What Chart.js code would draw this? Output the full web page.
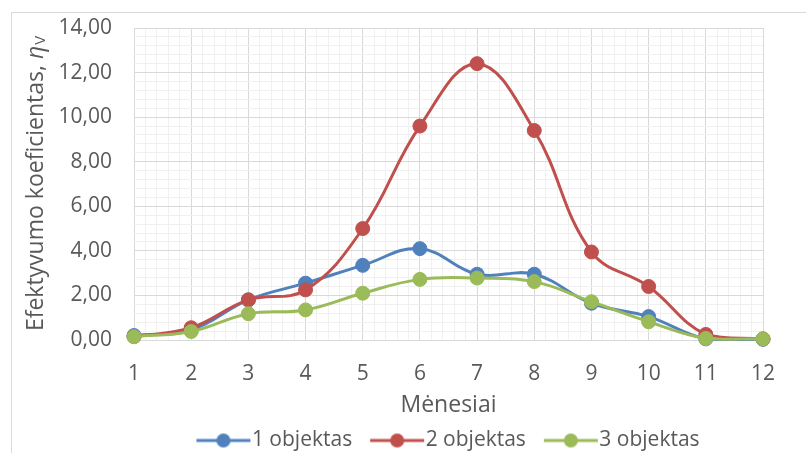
<!DOCTYPE html>
<html>
<head>
<meta charset="utf-8">
<script src="https://cdn.jsdelivr.net/npm/chart.js@4.4.1/dist/chart.umd.min.js"></script>
<style>
html, body { margin: 0; padding: 0; background: #fff; }
#wrap { width: 806px; height: 453px; position: relative; }
</style>
</head>
<body>
<div id="wrap"><canvas id="chart"></canvas></div>
<script>
var months = [1, 2, 3, 4, 5, 6, 7, 8, 9, 10, 11, 12];
var obj1 = [0.20, 0.45, 1.80, 2.55, 3.35, 4.10, 2.95, 2.95, 1.65, 1.05, 0.05, 0.03];
var obj2 = [0.15, 0.55, 1.80, 2.25, 5.00, 9.60, 12.40, 9.40, 3.95, 2.40, 0.25, 0.05];
var obj3 = [0.15, 0.38, 1.18, 1.35, 2.10, 2.72, 2.78, 2.62, 1.72, 0.82, 0.07, 0.05];
var seriesNames = ['1 objektas', '2 objektas', '3 objektas'];
var seriesColors = ['#4F81BD', '#C0504D', '#9BBB59'];
var yTicksMajor = 2, yTicksMinor = 0.4, yMax = 14;
var xTicksMinor = 0.2;
var xTitle = 'Mėnesiai';
var yTitle = 'Efektyvumo koeficientas, ';

var textColor = '#595959';
var fontFamily = '"Open Sans", sans-serif';

function toPoints(values) {
    return months.map(function(m, i) { return { x: m, y: values[i] }; });
}

// legend marker: line with a dot in the middle (line sits in the right part)
function legendMarker(color) {
    var c = document.createElement('canvas');
    c.width = 66; c.height = 16;
    var g = c.getContext('2d');
    g.strokeStyle = color;
    g.lineWidth = 3;
    g.beginPath(); g.moveTo(10, 8); g.lineTo(64, 8); g.stroke();
    g.fillStyle = color;
    g.beginPath(); g.arc(37, 8, 7, 0, Math.PI * 2); g.fill();
    return c;
}

function makeDataset(i, values, order) {
    return {
        label: seriesNames[i],
        data: toPoints(values),
        borderColor: seriesColors[i],
        backgroundColor: seriesColors[i],
        pointBackgroundColor: seriesColors[i],
        pointBorderColor: seriesColors[i],
        pointRadius: 7,
        pointHoverRadius: 7,
        pointBorderWidth: 1,
        borderWidth: 3,
        tension: 0.4,
        clip: false,
        order: order
    };
}

var frame = {
    id: 'frame',
    beforeDraw: function(chart) {
        var ctx = chart.ctx;
        ctx.save();
        ctx.strokeStyle = '#D9D9D9';
        ctx.lineWidth = 1;
        ctx.strokeRect(11.5, 12.5, 1000, 1000);
        ctx.restore();
    }
};

var yAxisTitle = {
    id: 'yAxisTitle',
    afterDraw: function(chart) {
        var ctx = chart.ctx;
        var area = chart.chartArea;
        ctx.save();
        ctx.translate(36, (area.top + area.bottom) / 2);
        ctx.rotate(-Math.PI / 2);
        ctx.fillStyle = textColor;
        ctx.textBaseline = 'middle';
        ctx.textAlign = 'left';
        ctx.font = '23px ' + fontFamily;
        var w1 = ctx.measureText(yTitle).width;
        ctx.font = 'italic 23px ' + fontFamily;
        var w2 = ctx.measureText('η').width;
        ctx.font = '15px ' + fontFamily;
        var w3 = ctx.measureText('V').width;
        var x = -(w1 + w2 + w3) / 2;
        ctx.font = '23px ' + fontFamily;
        ctx.fillText(yTitle, x, 0);
        ctx.font = 'italic 23px ' + fontFamily;
        ctx.fillText('η', x + w1, 0);
        ctx.font = '15px ' + fontFamily;
        ctx.fillText('V', x + w1 + w2 + 1, 5);
        ctx.restore();
    }
};

new Chart(document.getElementById('chart').getContext('2d'), {
    type: 'line',
    data: {
        datasets: [
            makeDataset(0, obj1, 3),
            makeDataset(1, obj2, 2),
            makeDataset(2, obj3, 1)
        ]
    },
    plugins: [frame, yAxisTitle],
    options: {
        responsive: true,
        maintainAspectRatio: false,
        animation: false,
        layout: {
            padding: { left: 0, right: 43, top: 28, bottom: 0 }
        },
        scales: {
            x: {
                type: 'linear',
                min: 1,
                max: 12,
                afterFit: function(scale) { scale.height = 71; },
                grid: {
                    drawTicks: false,
                    color: function(c) {
                        return Math.abs(c.tick.value - Math.round(c.tick.value)) < 1e-6 ? '#D9D9D9' : '#F0F0F0';
                    }
                },
                border: { display: false },
                ticks: {
                    stepSize: xTicksMinor,
                    autoSkip: false,
                    maxRotation: 0,
                    padding: 21,
                    color: textColor,
                    font: { family: fontFamily, size: 21 },
                    callback: function(v) {
                        return Math.abs(v - Math.round(v)) < 1e-6 ? String(Math.round(v)) : '';
                    }
                },
                title: {
                    display: true,
                    text: xTitle,
                    color: textColor,
                    font: { family: fontFamily, size: 23 },
                    padding: { top: 0, bottom: -8 }
                }
            },
            y: {
                min: 0,
                max: yMax,
                afterFit: function(scale) {
                    scale.width = 134;
                    scale.paddingTop = 0;
                    scale.paddingBottom = 0;
                },
                grid: {
                    drawTicks: false,
                    color: function(c) {
                        var r = c.tick.value / yTicksMajor;
                        return Math.abs(r - Math.round(r)) < 1e-6 ? '#D9D9D9' : '#F0F0F0';
                    }
                },
                border: { display: false },
                ticks: {
                    stepSize: yTicksMinor,
                    autoSkip: false,
                    padding: 22,
                    color: textColor,
                    font: { family: fontFamily, size: 21 },
                    callback: function(v) {
                        var r = v / yTicksMajor;
                        if (Math.abs(r - Math.round(r)) > 1e-6) return '';
                        return (Math.round(r) * yTicksMajor).toFixed(2).replace('.', ',');
                    }
                }
            }
        },
        plugins: {
            legend: {
                position: 'bottom',
                fullSize: false,
                maxHeight: 42,
                labels: {
                    usePointStyle: true,
                    pointStyleWidth: 44,
                    padding: 19,
                    color: textColor,
                    font: { family: fontFamily, size: 21 },
                    generateLabels: function(chart) {
                        return chart.data.datasets.map(function(ds, i) {
                            return {
                                text: ds.label,
                                fontColor: textColor,
                                pointStyle: legendMarker(ds.borderColor),
                                datasetIndex: i,
                                hidden: false,
                                lineWidth: 0
                            };
                        });
                    }
                }
            },
            tooltip: { enabled: false }
        }
    }
});
</script>
</body>
</html>
